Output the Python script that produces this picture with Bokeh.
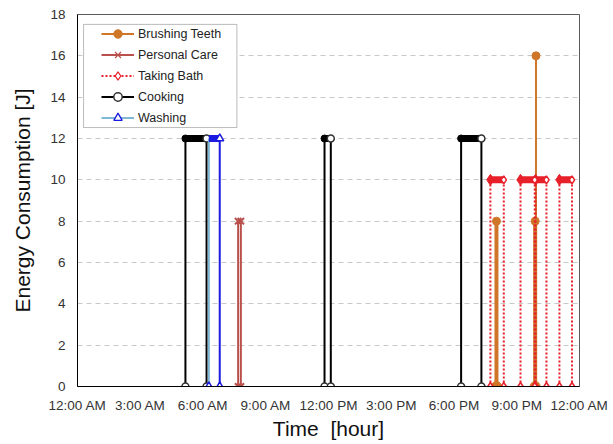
from bokeh.plotting import figure
from bokeh.models import Range1d, FixedTicker, Legend, LegendItem, BoxAnnotation, ColumnDataSource
from bokeh.embed import file_html
from bokeh.resources import INLINE

# ---------------- data (time in hours of day) ----------------
tick_hours = [0, 3, 6, 9, 12, 15, 18, 21, 24]
tick_labels = ["12:00 AM", "3:00 AM", "6:00 AM", "9:00 AM", "12:00 PM",
               "3:00 PM", "6:00 PM", "9:00 PM", "12:00 AM"]
y_ticks = [0, 2, 4, 6, 8, 10, 12, 14, 16, 18]

brush_time = [20.03, 21.88]
brush_level = [8, 8]
brush_peak_time = [21.92]
brush_peak_level = [16]

care_start = [7.68]
care_end = [7.81]
care_level = [8]

bath_start = [19.74, 21.18, 21.90, 23.04]
bath_end = [20.38, 21.86, 22.42, 23.64]
bath_level = [10, 10, 10, 10]

cooking_start = [5.16, 11.81, 18.34]
cooking_end = [6.17, 12.11, 19.31]
cooking_level = [12, 12, 12]

washing_start = [6.28]
washing_end = [6.80]
washing_level = [12]

series_names = ["Brushing Teeth", "Personal Care", "Taking Bath", "Cooking", "Washing"]

# ---------------- colours ----------------
C_BRUSH = "#cf7629"
C_CARE = "#b9504c"
C_BATH = "#e8202a"
C_COOK = "#000000"
C_WASH_LINE = "#7fb8d6"
C_WASH = "#1a1ae0"

FONT = "Liberation Sans"

p = figure(width=613, height=444, output_backend="svg", toolbar_location=None,
           x_range=Range1d(0, 24), y_range=Range1d(0, 18),
           min_border_left=77, min_border_right=34, min_border_top=14, min_border_bottom=58)

p.background_fill_color = "white"
p.border_fill_color = "white"
p.outline_line_color = "#5a5a5a"
p.outline_line_width = 1

# axes
p.xaxis.ticker = FixedTicker(ticks=tick_hours)
p.xaxis.major_label_overrides = {h: lab for h, lab in zip(tick_hours, tick_labels)}
p.yaxis.ticker = FixedTicker(ticks=y_ticks)
for ax in (p.xaxis[0], p.yaxis[0]):
    ax.axis_line_color = "black"
    ax.axis_line_width = 1
    ax.major_tick_out = 0
    ax.major_tick_in = 0
    ax.minor_tick_out = 0
    ax.minor_tick_in = 0
    ax.major_label_text_font = FONT
    ax.major_label_text_font_size = "13.5px"
    ax.major_label_text_color = "#333333"
    ax.axis_label_text_font = FONT
    ax.axis_label_text_font_style = "normal"
    ax.axis_label_text_font_size = "21px"
    ax.axis_label_text_color = "#111111"
p.xaxis.axis_label = "Time \u00a0[hour]"
p.yaxis.axis_label = "Energy Consumption [J]"
p.xaxis.major_label_standoff = 11
p.xaxis.axis_label_standoff = 1
p.yaxis.major_label_standoff = 12
p.yaxis.axis_label_standoff = 13

p.xgrid.grid_line_color = None
p.ygrid.grid_line_color = "#c8c8c8"
p.ygrid.grid_line_dash = "5 4"
p.ygrid.grid_line_width = 1


def zeros(a):
    return [0] * len(a)


# ---------------- Brushing Teeth ----------------
p.segment(x0=brush_peak_time, y0=zeros(brush_peak_time), x1=brush_peak_time, y1=brush_peak_level,
          line_color=C_BRUSH, line_width=2)
p.segment(x0=brush_time, y0=zeros(brush_time), x1=brush_time, y1=brush_level,
          line_color=C_BRUSH, line_width=4)
p.scatter(brush_time + brush_peak_time, brush_level + brush_peak_level, marker="circle", size=8,
          fill_color=C_BRUSH, line_color=C_BRUSH)
p.scatter(brush_time, zeros(brush_time), marker="circle", size=10,
          fill_color=C_BRUSH, line_color=C_BRUSH)

# ---------------- Personal Care ----------------
p.segment(x0=care_start, y0=zeros(care_start), x1=care_start, y1=care_level,
          line_color=C_CARE, line_width=2)
p.segment(x0=care_end, y0=zeros(care_end), x1=care_end, y1=care_level,
          line_color=C_CARE, line_width=2)
p.segment(x0=care_start, y0=care_level, x1=care_end, y1=care_level,
          line_color=C_CARE, line_width=2)
p.scatter(care_start + care_end + care_start + care_end,
          care_level + care_level + zeros(care_start) + zeros(care_end),
          marker="x", size=9, line_color=C_CARE, line_width=2)

# ---------------- Taking Bath ----------------
p.segment(x0=bath_start, y0=zeros(bath_start), x1=bath_start, y1=bath_level,
          line_color=C_BATH, line_width=2, line_dash="2 2")
p.segment(x0=bath_end, y0=zeros(bath_end), x1=bath_end, y1=bath_level,
          line_color=C_BATH, line_width=2, line_dash="2 2")
p.segment(x0=bath_start, y0=bath_level, x1=bath_end, y1=bath_level,
          line_color=C_BATH, line_width=7)
p.scatter(bath_start, bath_level, marker="diamond", size=11, fill_color=C_BATH, line_color=C_BATH)
p.scatter(bath_end, bath_level, marker="diamond", size=8, fill_color="white", line_color=C_BATH,
          line_width=1.5)
p.scatter(bath_start + bath_end, zeros(bath_start) + zeros(bath_end), marker="diamond", size=8,
          fill_color="white", line_color=C_BATH, line_width=1.5)

# ---------------- Cooking ----------------
p.segment(x0=cooking_start, y0=zeros(cooking_start), x1=cooking_start, y1=cooking_level,
          line_color=C_COOK, line_width=2)
p.segment(x0=cooking_end, y0=zeros(cooking_end), x1=cooking_end, y1=cooking_level,
          line_color=C_COOK, line_width=2)
p.segment(x0=cooking_start, y0=cooking_level, x1=cooking_end, y1=cooking_level,
          line_color=C_COOK, line_width=7)
p.scatter(cooking_start, cooking_level, marker="circle", size=7, fill_color=C_COOK, line_color=C_COOK)
p.scatter(cooking_end, cooking_level, marker="circle", size=7, fill_color="white",
          line_color="#333333", line_width=1.5)
p.scatter(cooking_start + cooking_end, zeros(cooking_start) + zeros(cooking_end), marker="circle",
          size=7, fill_color="white", line_color="#333333", line_width=1.5)

# ---------------- Washing ----------------
p.segment(x0=washing_start, y0=zeros(washing_start), x1=washing_start, y1=washing_level,
          line_color=C_WASH_LINE, line_width=2)
p.segment(x0=washing_end, y0=zeros(washing_end), x1=washing_end, y1=washing_level,
          line_color=C_WASH, line_width=2)
p.segment(x0=washing_start, y0=washing_level, x1=washing_end, y1=washing_level,
          line_color=C_WASH, line_width=7)
p.scatter(washing_end, washing_level, marker="triangle", size=8, fill_color="white",
          line_color=C_WASH, line_width=1.5)
p.scatter(washing_start + washing_end, zeros(washing_start) + zeros(washing_end), marker="triangle",
          size=8, fill_color="white", line_color=C_WASH, line_width=1.5)

# ---------------- legend ----------------
nan = float("nan")
dummy = lambda: ColumnDataSource(data=dict(x=[nan], y=[nan]))
leg_styles = [
    dict(line=dict(line_color=C_BRUSH, line_width=2),
         mark=dict(marker="circle", size=7, fill_color=C_BRUSH, line_color=C_BRUSH)),
    dict(line=dict(line_color=C_CARE, line_width=2),
         mark=dict(marker="x", size=9, line_color=C_CARE, line_width=1.2)),
    dict(line=dict(line_color=C_BATH, line_width=2, line_dash="2 2"),
         mark=dict(marker="diamond", size=8, fill_color="white", line_color=C_BATH, line_width=1.2)),
    dict(line=dict(line_color=C_COOK, line_width=2),
         mark=dict(marker="circle", size=7, fill_color="white", line_color="#333333", line_width=1.5)),
    dict(line=dict(line_color=C_WASH_LINE, line_width=2),
         mark=dict(marker="triangle", size=7, fill_color="white", line_color=C_WASH, line_width=1.3)),
]
items = []
for name, st in zip(series_names, leg_styles):
    lr = p.line("x", "y", source=dummy(), **st["line"])
    mr = p.scatter("x", "y", source=dummy(), **st["mark"])
    items.append(LegendItem(label=name, renderers=[lr, mr]))

p.add_layout(BoxAnnotation(left=0.29, right=7.62, bottom=12.53, top=17.52,
                           fill_color="white", fill_alpha=1.0,
                           line_color="#222222", line_width=1))

legend = Legend(items=items, location=(24, 258), padding=0, spacing=0,
                glyph_width=33, glyph_height=21, label_height=21, label_standoff=4,
                label_text_font=FONT, label_text_font_size="12.5px", label_text_color="#222222",
                background_fill_alpha=0, border_line_alpha=0, margin=0)
p.add_layout(legend, "center")

open("out.html", "w").write(file_html(p, INLINE))
